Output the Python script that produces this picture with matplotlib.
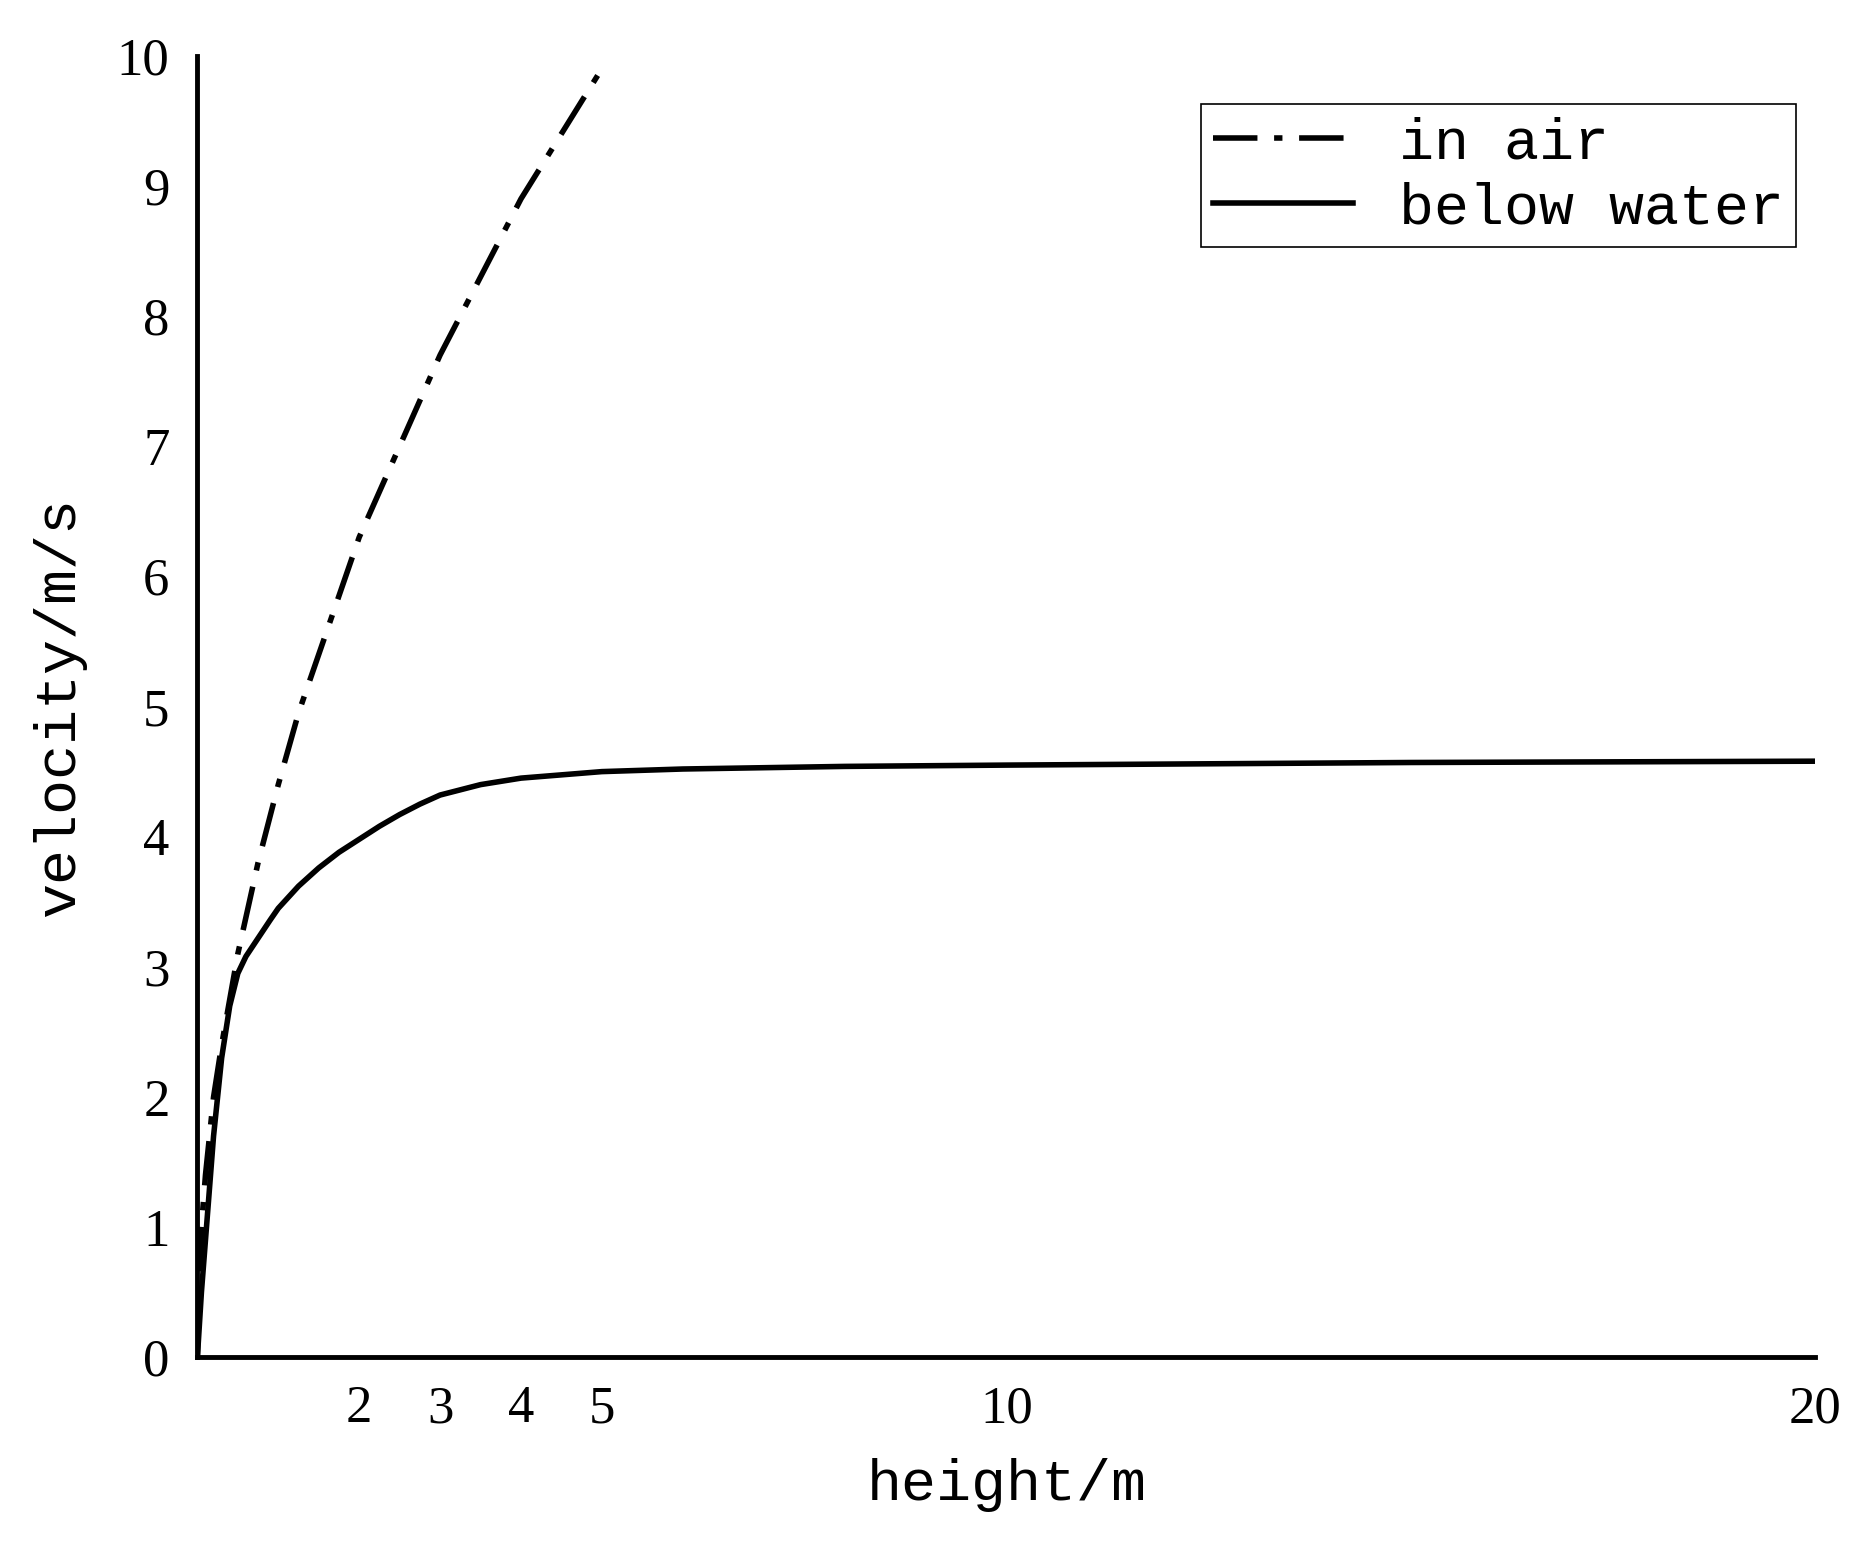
import matplotlib
matplotlib.use("Agg")
import matplotlib.pyplot as plt

air_h = [0, 0.05, 0.1, 0.2, 0.3, 0.5, 0.75, 1, 1.25, 1.5, 1.75, 2, 2.5, 3, 3.5, 4, 4.5, 5]
air_v = [0, 1.0, 1.4, 2.0, 2.4, 3.1, 3.8, 4.4, 4.95, 5.4, 5.85, 6.3, 7.0, 7.7, 8.3, 8.9, 9.4, 9.9]
water_h = [0, 0.05, 0.1, 0.15, 0.2, 0.3, 0.4, 0.5, 0.6, 0.75, 0.9, 1, 1.25, 1.5, 1.75, 2, 2.25, 2.5, 2.75, 3, 3.5, 4, 5, 6, 8, 10, 15, 20]
water_v = [0, 0.5, 0.9, 1.3, 1.7, 2.3, 2.7, 2.95, 3.08, 3.22, 3.36, 3.45, 3.62, 3.76, 3.88, 3.98, 4.08, 4.17, 4.25, 4.32, 4.4, 4.45, 4.5, 4.52, 4.54, 4.55, 4.57, 4.58]
xticks = [2, 3, 4, 5, 10, 20]
yticks = list(range(0, 11))

fig = plt.figure(figsize=(18.62, 15.46), dpi=100)
ax = fig.add_axes([0.106, 0.122, 0.869, 0.842])
ax.plot(air_h, air_v, color="black", lw=4, linestyle=(0, (8, 3, 1.5, 3)), label="in air")
ax.plot(water_h, water_v, color="black", lw=4, label="below water")
ax.set_xlim(0, 20)
ax.set_ylim(0, 10)
ax.set_xticks(xticks)
ax.set_yticks(yticks)
ax.tick_params(length=0, labelsize=38, pad=20)
for lab in ax.get_xticklabels() + ax.get_yticklabels():
    lab.set_family("Liberation Serif")
for s in ["top", "right"]:
    ax.spines[s].set_visible(False)
for s in ["left", "bottom"]:
    ax.spines[s].set_linewidth(3.5)
ax.set_xlabel("height/m", family="Liberation Mono", fontsize=42, labelpad=18)
ax.set_ylabel("velocity/m/s", family="Liberation Mono", fontsize=42, labelpad=22)
leg = ax.legend(loc="upper right", bbox_to_anchor=(1.006, 0.985), prop={"family": "Liberation Mono", "size": 42},
                fancybox=False, edgecolor="black", framealpha=1, handlelength=2.4, borderpad=0.2,
                labelspacing=0.2, handletextpad=0.8)
leg.get_frame().set_linewidth(1.2)
fig.savefig("out.png", dpi=100, facecolor="white")
